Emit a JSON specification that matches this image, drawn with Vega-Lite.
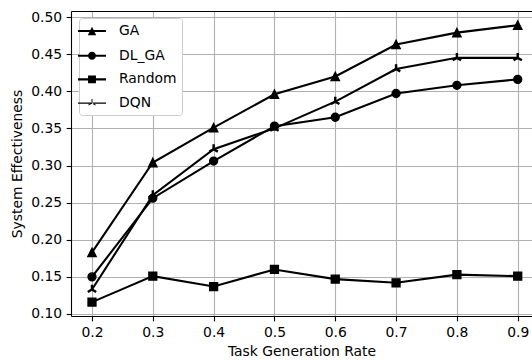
{
  "$schema": "https://vega.github.io/schema/vega-lite/v6.json",
  "autosize": {"type": "none"},
  "padding": {"left": 71, "top": 11, "right": 0, "bottom": 44},
  "width": 461,
  "height": 305,
  "background": "white",
  "config": {
    "view": {"stroke": null},
    "font": "DejaVu Sans",
    "axis": {
      "labelFont": "DejaVu Sans", "labelFontSize": 13.9, "labelColor": "black",
      "titleFont": "DejaVu Sans", "titleFontSize": 13.9, "titleFontWeight": "normal", "titleColor": "black",
      "tickColor": "black", "tickSize": 4.86, "tickWidth": 1.1,
      "domainColor": "black", "domainWidth": 1.1,
      "gridColor": "#b0b0b0", "gridWidth": 1.1, "gridOpacity": 1,
      "labelPadding": 4.5, "labelOverlap": false
    },
    "legend": {
      "labelFont": "DejaVu Sans", "labelFontSize": 13.9, "labelColor": "black",
      "strokeColor": "#cccccc", "fillColor": "#ffffff", "cornerRadius": 3,
      "symbolStrokeColor": "black", "symbolFillColor": "black", "symbolStrokeWidth": 2, "symbolOpacity": 1
    }
  },
  "data": {
    "values": [
      {"model": "GA", "rate": 0.2, "value": 0.183},
      {"model": "GA", "rate": 0.3, "value": 0.304},
      {"model": "GA", "rate": 0.4, "value": 0.351},
      {"model": "GA", "rate": 0.5, "value": 0.396},
      {"model": "GA", "rate": 0.6, "value": 0.420},
      {"model": "GA", "rate": 0.7, "value": 0.463},
      {"model": "GA", "rate": 0.8, "value": 0.479},
      {"model": "GA", "rate": 0.9, "value": 0.489},
      {"model": "DL_GA", "rate": 0.2, "value": 0.150},
      {"model": "DL_GA", "rate": 0.3, "value": 0.256},
      {"model": "DL_GA", "rate": 0.4, "value": 0.306},
      {"model": "DL_GA", "rate": 0.5, "value": 0.353},
      {"model": "DL_GA", "rate": 0.6, "value": 0.365},
      {"model": "DL_GA", "rate": 0.7, "value": 0.397},
      {"model": "DL_GA", "rate": 0.8, "value": 0.408},
      {"model": "DL_GA", "rate": 0.9, "value": 0.416},
      {"model": "Random", "rate": 0.2, "value": 0.116},
      {"model": "Random", "rate": 0.3, "value": 0.151},
      {"model": "Random", "rate": 0.4, "value": 0.137},
      {"model": "Random", "rate": 0.5, "value": 0.160},
      {"model": "Random", "rate": 0.6, "value": 0.147},
      {"model": "Random", "rate": 0.7, "value": 0.142},
      {"model": "Random", "rate": 0.8, "value": 0.153},
      {"model": "Random", "rate": 0.9, "value": 0.151},
      {"model": "DQN", "rate": 0.2, "value": 0.133},
      {"model": "DQN", "rate": 0.3, "value": 0.260},
      {"model": "DQN", "rate": 0.4, "value": 0.322},
      {"model": "DQN", "rate": 0.5, "value": 0.350},
      {"model": "DQN", "rate": 0.6, "value": 0.386},
      {"model": "DQN", "rate": 0.7, "value": 0.430},
      {"model": "DQN", "rate": 0.8, "value": 0.445},
      {"model": "DQN", "rate": 0.9, "value": 0.445}
    ]
  },
  "encoding": {
    "y": {"field": "value", "type": "quantitative", "title": "System Effectiveness",
          "scale": {"domain": [0.0973, 0.5081], "nice": false, "zero": false},
          "axis": {"values": [0.10, 0.15, 0.20, 0.25, 0.30, 0.35, 0.40, 0.45, 0.50], "format": ".2f", "labelFlush": false, "labelOverlap": false, "titlePadding": 6}}
  },
  "layer": [
    {
      "mark": {"type": "line", "color": "black", "strokeCap": "butt"},
      "encoding": {
        "x": {"field": "rate", "type": "quantitative", "title": "Task Generation Rate",
              "scale": {"domain": [0.1655, 0.9235], "nice": false, "zero": false},
              "axis": {"values": [0.2, 0.3, 0.4, 0.5, 0.6, 0.7, 0.8, 0.9], "format": ".1f", "labelFlush": false, "titlePadding": 5}},
        "detail": {"field": "model"},
        "strokeWidth": {"field": "model", "type": "nominal", "legend": null,
              "scale": {"domain": ["GA", "DL_GA", "Random", "DQN"], "range": [2.08, 2.08, 2.08, 1.5]}}
      }
    },
    {
      "mark": {"type": "point", "filled": true, "color": "black", "stroke": "black", "strokeWidth": 1.4, "opacity": 1, "size": 69},
      "encoding": {
        "x": {"field": "rate", "type": "quantitative", "axis": null},
        "shape": {"field": "model", "type": "nominal", "legend": null,
          "scale": {"domain": ["GA", "DL_GA", "Random", "DQN"],
            "range": [
              "M0,-1L1,1L-1,1Z",
              "M-0.95,0A0.95,0.95,0,1,1,0.95,0A0.95,0.95,0,1,1,-0.95,0Z",
              "M-0.95,-0.95H0.95V0.95H-0.95Z",
              "M-0.12,0H0.12V-1H-0.12ZM0.06,0.104L-0.806,0.604L-0.926,0.396L-0.06,-0.104ZM-0.06,0.104L0.806,0.604L0.926,0.396L0.06,-0.104Z"
            ]}}
      }
    },
    {
      "transform": [{"filter": "datum.model == 'none'"}],
      "mark": {"type": "point", "filled": true, "color": "black", "stroke": "black", "strokeWidth": 2, "opacity": 1, "size": 196},
      "encoding": {
        "x": {"field": "rate", "type": "quantitative",
              "axis": {"orient": "top", "labels": false, "ticks": false, "grid": false, "domain": true, "title": null}},
        "shape": {"field": "model", "type": "nominal",
          "scale": {"domain": ["GA", "DL_GA", "Random", "DQN"],
            "range": [
              "M-2,-0.15H2V0.15H-2ZM0,-0.596L0.596,0.596L-0.596,0.596Z",
              "M-2,-0.15H2V0.15H-2ZM-0.572,0A0.572,0.572,0,1,1,0.572,0A0.572,0.572,0,1,1,-0.572,0Z",
              "M-2,-0.15H2V0.15H-2ZM-0.564,-0.564H0.564V0.564H-0.564Z",
              "M-2,-0.1H2V0.1H-2ZM-0.07,0H0.07V-0.593H-0.07ZM0.036,0.062L-0.478,0.358L-0.549,0.235L-0.036,-0.062ZM-0.036,0.062L0.478,0.358L0.549,0.235L0.036,-0.062Z"
            ]},
          "legend": {"title": null, "orient": "none", "legendX": 8, "legendY": 7,
            "strokeColor": "#cccccc", "symbolStrokeColor": "black", "symbolStrokeWidth": 2,
            "symbolSize": 196, "labelOffset": 19, "rowPadding": 6.7, "padding": 5}}
      }
    }
  ],
  "resolve": {"axis": {"x": "independent"}, "scale": {"shape": "independent"}, "legend": {"shape": "independent"}}
}
